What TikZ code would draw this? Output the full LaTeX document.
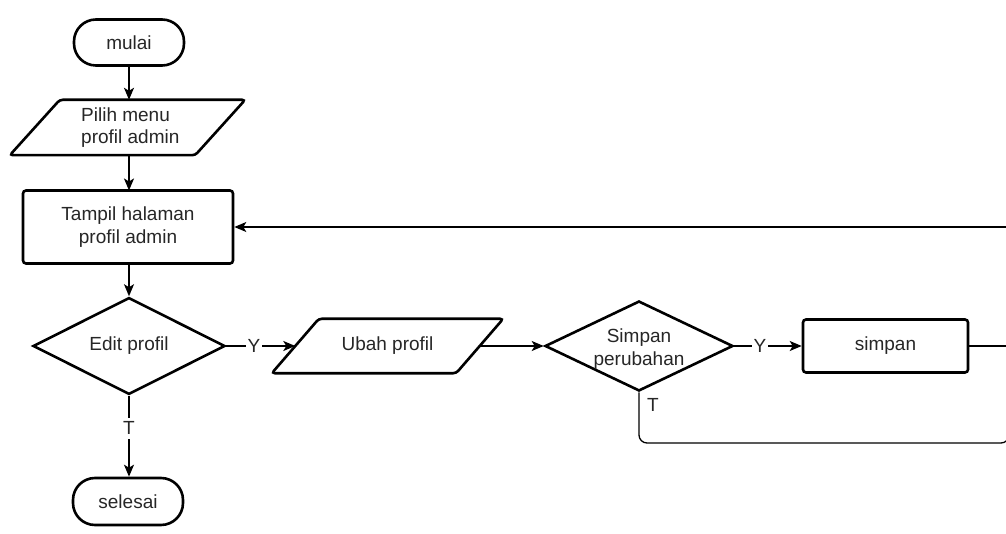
\documentclass[tikz,border=0pt]{standalone}
\usepackage{fontspec}
\setmainfont{Liberation Sans}
\usetikzlibrary{shapes.geometric,arrows.meta,calc}

\tikzset{
  base/.style={font=\fontsize{19}{22.5}\selectfont, text=black!85, inner sep=0pt, align=center},
  outline/.style={line width=2.6pt, rounded corners=3pt},
  terminal/.style={base, draw, line width=2.6pt, rounded corners=22pt, minimum width=110pt, minimum height=46pt},
  procbox/.style 2 args={base, draw, outline, minimum width=#1, minimum height=#2},
  decision/.style 2 args={base, draw, diamond, line width=2.6pt, minimum width=#1, minimum height=#2},
  iobox/.style 2 args={base, minimum width=#1, minimum height=#2},
  flow/.style={line width=1.6pt, -{Stealth[length=12pt,width=10pt,inset=3pt]}},
  back/.style={line width=1.4pt, -{Stealth[length=12pt,width=10pt,inset=3pt]}},
  loopline/.style={line width=1.3pt, rounded corners=8pt},
  tag/.style={font=\fontsize{19}{22}\selectfont, text=black!85, fill=white, inner xsep=2pt, inner ysep=4pt},
}

% parallelogram outline around an (undrawn) box node
\newcommand{\slantbox}[2]{%
  \draw[outline] ($(#1.north west)+(#2,0)$) -- (#1.north east)
    -- ($(#1.south east)+(-#2,0)$) -- (#1.south west) -- cycle;}

\begin{document}
\begin{tikzpicture}[x=1pt,y=-1pt]
\useasboundingbox (0,0) rectangle (1006,534);
\clip (0,0) rectangle (1006,534);

% main column
\node[terminal] (mulai) at (129,42.5) {mulai};
\node[iobox={235pt}{55pt}] (pilih) at (127.5,127.5) {};
\slantbox{pilih}{50pt}
\node[base, align=left, anchor=west] (pilihtext) at (81,127.5) {Pilih menu\\profil admin};
\node[procbox={210pt}{73pt}] (tampil) at (128,227) {Tampil halaman\\profil admin};
\node[decision={192pt}{89pt}] (edit) at (129,346) {Edit profil};
\node[terminal, minimum height=47pt] (selesai) at (128,501.5) {selesai};

% editing branch
\node[iobox={231pt}{54pt}] (ubah) at (387.5,346) {Ubah profil};
\slantbox{ubah}{47pt}
\coordinate (ubahin) at ($(ubah.west)+(23.5,0)$);
\coordinate (ubahout) at ($(ubah.east)+(-23.5,0)$);
\node[decision={188pt}{90pt}] (simpandec) at (639,346) {};
\node[base] (simpantext) at (639,349) {Simpan\\perubahan};
\node[procbox={165pt}{53pt}] (simpan) at (885.5,346) {simpan};

% turning points beyond the right edge
\coordinate (rback) at (1009,346);
\coordinate (rloop) at (1009,443);
\coordinate (loopdown) at (639,443);

% connectors
\draw[flow] (mulai.south) -- (mulai.south |- pilih.north);
\draw[flow] (129,155) -- (129,190.5);
\draw[flow] (tampil.south -| edit.north) -- (edit.north);
\draw[flow] (edit.south) -- node[tag, pos=0.4] {T} (selesai.north -| edit.south);
\draw[flow] (edit.east) -- node[tag, pos=0.4] {Y} (ubahin);
\draw[flow] (ubahout) -- (simpandec.west);
\draw[flow] (simpandec.east) -- node[tag, pos=0.38] {Y} (simpan.west);
\draw[back] (simpan.east) -- (rback) |- (tampil.east);
\draw[loopline] (simpandec.south) -- (loopdown) -- (rloop) -- (rback);
\node[tag, fill=none, anchor=west] (tlabel) at (645,405) {T};
\end{tikzpicture}
\end{document}
